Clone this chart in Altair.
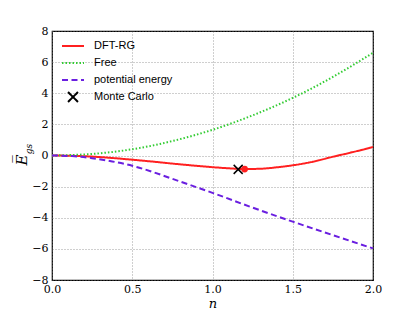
import altair as alt
import pandas as pd

# ---- data ----
free_n = [0.0, 0.25, 0.5, 0.75, 1.0, 1.25, 1.5, 1.75, 2.0]
free_e = [0.0, 0.10, 0.40, 0.93, 1.65, 2.58, 3.70, 5.05, 6.60]

pot_n = [0.0, 0.125, 0.25, 0.375, 0.5, 0.625, 0.75, 1.0, 1.25, 1.5, 1.75, 2.0]
pot_e = [0.0, -0.04, -0.17, -0.38, -0.66, -1.05, -1.50, -2.40, -3.35, -4.25, -5.12, -5.97]

dft_n = [0.0, 0.125, 0.25, 0.375, 0.5, 0.625, 0.75, 0.875, 1.0, 1.1, 1.2, 1.3, 1.4, 1.5, 1.625, 1.75, 1.875, 2.0]
dft_e = [0.0, -0.02, -0.07, -0.16, -0.27, -0.39, -0.52, -0.64, -0.75, -0.82, -0.87, -0.85, -0.76, -0.63, -0.40, -0.08, 0.22, 0.55]

dft_min_n = [1.2]
dft_min_e = [-0.87]

mc_n = [1.16]
mc_e = [-0.89]

series_names = ["DFT-RG", "Free", "potential energy", "Monte Carlo"]
series_colors = ["#ff2020", "#33cc33", "#6a1fe0", "#000000"]
series_dash = [[1, 0], [1.5, 2], [6, 3.5], [1, 0]]
x_path = "M-0.45,-0.45L0.45,0.45M-0.45,0.45L0.45,-0.45"
series_shapes = ["stroke", "stroke", "stroke", x_path]

x_ticks = [0.0, 0.5, 1.0, 1.5, 2.0]
y_ticks = [-8, -6, -4, -2, 0, 2, 4, 6, 8]

rows = []
for name, ns, es in [("DFT-RG", dft_n, dft_e), ("Free", free_n, free_e),
                     ("potential energy", pot_n, pot_e)]:
    for i, (a, b) in enumerate(zip(ns, es)):
        rows.append({"n": a, "E": b, "series": name, "order": i})
lines_df = pd.DataFrame(rows)
mc_df = pd.DataFrame({"n": mc_n, "E": mc_e, "series": ["Monte Carlo"] * len(mc_n)})
dot_df = pd.DataFrame({"n": dft_min_n, "E": dft_min_e})

serif = "DejaVu Serif"

x_enc = alt.X("n:Q", scale=alt.Scale(domain=[0, 2], nice=False),
              axis=alt.Axis(values=x_ticks, format=".1f", title="n", grid=True,
                            titleFont=serif, titleFontStyle="italic",
                            titleFontWeight="normal", titleFontSize=13,
                            titlePadding=3))
y_enc = alt.Y("E:Q", scale=alt.Scale(domain=[-8, 8], nice=False),
              axis=alt.Axis(values=y_ticks, format="d", title=None, grid=True))

color_enc = alt.Color("series:N", scale=alt.Scale(domain=series_names, range=series_colors),
                      legend=alt.Legend(title=None, orient="none", legendX=9, legendY=3,
                                        padding=0, labelFont="Liberation Sans",
                                        labelFontSize=11, labelOffset=9,
                                        symbolSize=484, symbolStrokeWidth=2,
                                        rowPadding=-1.7, labelColor="black"))
dash_enc = alt.StrokeDash("series:N", scale=alt.Scale(domain=series_names, range=series_dash),
                          legend=alt.Legend(title=None))
shape_enc = alt.Shape("series:N", scale=alt.Scale(domain=series_names, range=series_shapes),
                      legend=alt.Legend(title=None))

lines = alt.Chart(lines_df).mark_line(strokeWidth=2, interpolate="monotone").encode(
    x=x_enc, y=y_enc, color=color_enc, strokeDash=dash_enc, order="order:Q",
    detail="series:N")

mc = alt.Chart(mc_df).mark_point(filled=False, size=400, strokeWidth=1.5, opacity=1).encode(
    x=x_enc, y=y_enc, color=color_enc, shape=shape_enc)

dot = alt.Chart(dot_df).mark_circle(size=45, color="#ff2020", opacity=1).encode(
    x=x_enc, y=y_enc)

ytitle = alt.Chart(pd.DataFrame({"t": ["E\u0305"]})).mark_text(
    font=serif, fontStyle="italic", fontSize=15, angle=270, color="black"
).encode(x=alt.value(-30), y=alt.value(129), text="t:N")
ysub = alt.Chart(pd.DataFrame({"t": ["gs"]})).mark_text(
    font=serif, fontStyle="italic", fontSize=9, angle=270, color="black"
).encode(x=alt.value(-23), y=alt.value(118), text="t:N")

chart = alt.layer(lines, dot, mc, ytitle, ysub).properties(
    width=321, height=249,
    autosize=alt.AutoSizeParams(type="none"),
    padding={"left": 44, "top": 23, "right": 30, "bottom": 32},
).configure_view(stroke="black", strokeWidth=1.2).configure_axis(
    labelFont=serif, labelFontSize=11, labelColor="black",
    domain=False, ticks=False, labelPadding=4, labelOverlap=False, labelFlush=False,
    gridColor="#777777", gridDash=[1, 2], gridWidth=0.7,
).configure_axisY(labelPadding=4).configure_axisX(labelPadding=3)

chart.save("out.html", embed_options={"renderer": "svg", "actions": False})
